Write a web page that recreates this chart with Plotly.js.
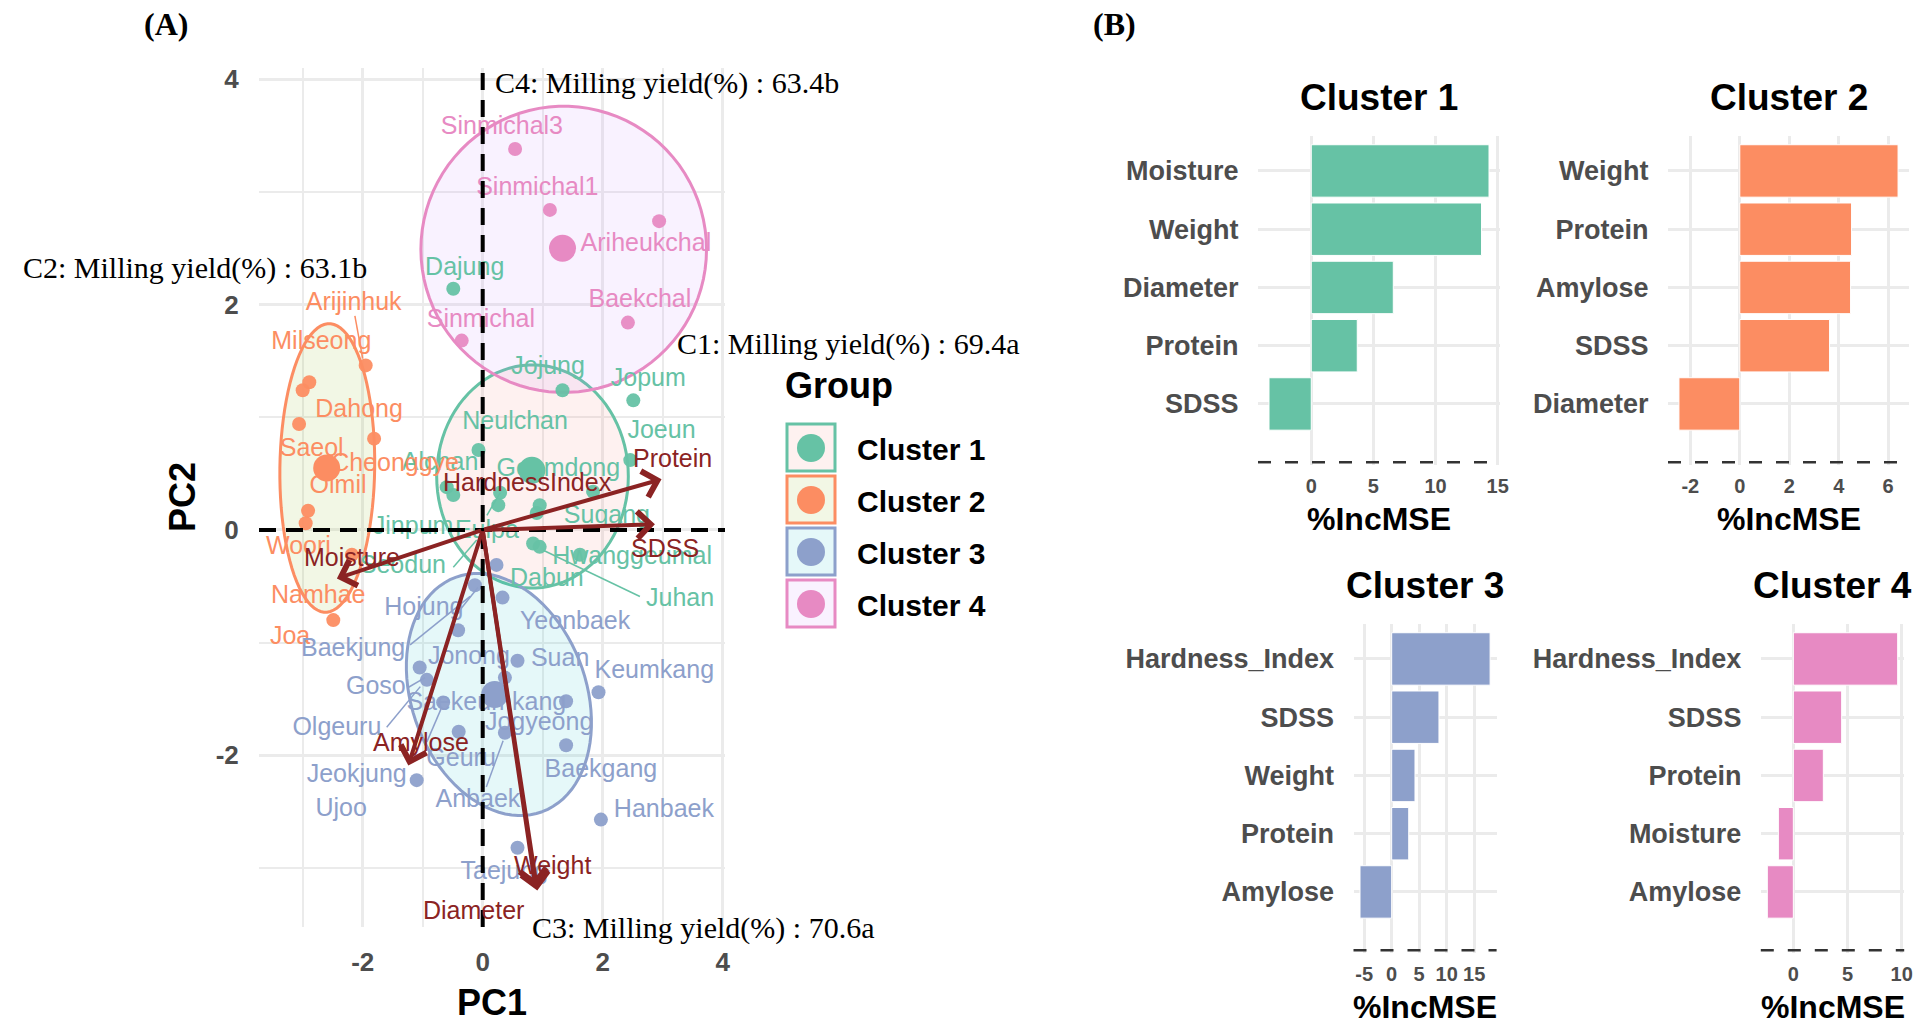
<!DOCTYPE html>
<html><head><meta charset="utf-8">
<script src="https://cdn.plot.ly/plotly-3.0.1.min.js"></script>
<style>html,body{margin:0;padding:0;background:#fff}#chart{width:1921px;height:1028px}</style>
</head><body><div id="chart"></div>
<script>
// ================= DATA =================
const groupNames = ['Cluster 1', 'Cluster 2', 'Cluster 3', 'Cluster 4'];

// PCA scores per cluster
const c1X = [-0.49, 1.33, 2.51, -0.07, 2.46, -0.60, -0.49, 0.29, 0.26, 0.95, 0.90, 0.84, 0.95, 1.62, 1.84];
const c1Y = [2.14, 1.24, 1.15, 0.71, 0.62, 0.38, 0.31, 0.33, 0.22, 0.22, 0.15, -0.12, -0.15, -0.22, 0.34];
const c2X = [-1.95, -2.89, -3.00, -3.06, -1.81, -2.91, -2.95, -2.18, -2.49];
const c2Y = [1.46, 1.31, 1.24, 0.94, 0.81, 0.17, 0.06, -0.22, -0.80];
const c3X = [0.23, -0.13, 0.33, -0.41, -1.05, -0.93, 0.58, 0.37, -0.66, 1.39, 1.93, -0.40, 0.37, 1.39, -1.10, 1.97, 0.58];
const c3Y = [-0.31, -0.49, -0.60, -0.89, -1.22, -1.33, -1.16, -1.31, -1.53, -1.52, -1.44, -1.79, -1.80, -1.91, -2.22, -2.57, -2.82];
const c4X = [0.54, 1.12, 2.94, 2.42, -0.35];
const c4Y = [3.38, 2.84, 2.74, 1.84, 1.68];

// variety labels (repelled label positions)
const c1Names = ['Dajung', 'Jojung', 'Jopum', 'Neulchan', 'Joeun', 'Alchan', 'Goamdong', 'Jinpum', 'Eulpa', 'Seodun', 'Dabun', 'Hwanggeumal', 'Juhan', 'Sugang'];
const c1LabX = [-0.30, 1.09, 2.76, 0.54, 2.98, -0.71, 1.26, -1.16, 0.07, -1.33, 1.07, 2.49, 3.29, 2.07];
const c1LabY = [2.32, 1.44, 1.33, 0.95, 0.87, 0.59, 0.53, 0.02, -0.02, -0.33, -0.44, -0.25, -0.62, 0.12];
const c2Names = ['Arijinhuk', 'Milseong', 'Dahong', 'Saeol', 'Cheonggye', 'Olmil', 'Woori', 'Namhae', 'Joa'];
const c2LabX = [-2.15, -2.69, -2.06, -2.85, -1.46, -2.41, -3.07, -2.74, -3.21];
const c2LabY = [2.01, 1.66, 1.06, 0.71, 0.58, 0.38, -0.16, -0.59, -0.96];
const c3Names = ['Hojung', 'Yeonbaek', 'Baekjung', 'Jonong', 'Suan', 'Keumkang', 'Goso', 'Saekeumkang', 'Jogyeong', 'Olgeuru', 'Geuru', 'Baekgang', 'Jeokjung', 'Hanbaek', 'Anbaek', 'Ujoo', 'Taejung'];
const c3LabX = [-0.98, 1.54, -2.16, -0.23, 1.29, 2.86, -1.78, 0.06, 0.94, -2.43, -0.36, 1.97, -2.10, 3.02, -0.08, -2.36, 0.36];
const c3LabY = [-0.70, -0.82, -1.06, -1.13, -1.15, -1.26, -1.40, -1.54, -1.72, -1.76, -2.04, -2.14, -2.18, -2.49, -2.40, -2.48, -3.04];
const c4Names = ['Sinmichal3', 'Sinmichal1', 'Ariheukchal', 'Baekchal', 'Sinmichal'];
const c4LabX = [0.32, 0.91, 2.72, 2.62, -0.03];
const c4LabY = [3.57, 3.03, 2.53, 2.03, 1.86];

// label leader segments
const segGroup = [1, 2, 2, 2, 2, 2, 2, 0, 0, 0];
const segX0 = [-2.13, -0.38, -1.21, -1.25, -1.60, -0.93, 0.06, 2.62, -0.49, 0.07];
const segY0 = [1.90, -0.71, -1.02, -1.40, -1.75, -1.88, -2.28, -0.59, -0.33, 0.13];
const segX1 = [-2.00, -0.08, -0.21, -0.96, -1.04, -0.68, 0.34, 1.01, -0.10, 0.29];
const segY1 = [1.52, -0.51, -0.59, -1.31, -1.39, -1.57, -1.87, -0.18, -0.09, 0.33];

// cluster centroids
const centX = [0.82, -2.60, 0.20, 1.33];
const centY = [0.53, 0.55, -1.46, 2.50];

// confidence ellipses: centre and two conjugate semi-axis vectors
const ellCX = [0.83, -2.59, 0.27, 1.35];
const ellCY = [0.475, 0.55, -1.46, 2.49];
const ellUX = [1.597, 0.79, 0.722, 2.38];
const ellUY = [0, 0, -1.04, 0];
const ellVX = [0, 0.03, -1.363, 0];
const ellVY = [0.99, 1.28, -0.269, 1.27];

// variable loadings (arrows)
const arrowNames = ['Protein', 'SDSS', 'Moisture', 'Amylose', 'Weight', 'Diameter'];
const arrowX = [2.98, 2.87, -2.43, -1.24, 0.91, 0.88];
const arrowY = [0.45, 0.05, -0.43, -2.09, -3.20, -3.17];
const loadNames = ['Protein', 'SDSS', 'HardnessIndex', 'Moisture', 'Amylose', 'Weight', 'Diameter'];
const loadLabX = [3.17, 3.04, 0.74, -2.18, -1.03, 1.17, -0.16];
const loadLabY = [0.64, -0.16, 0.43, -0.24, -1.88, -2.97, -3.37];

// milling yield notes
const millText = ['C1: Milling yield(%) : 69.4a', 'C2: Milling yield(%) : 63.1b', 'C3: Milling yield(%) : 70.6a', 'C4: Milling yield(%) : 63.4b'];

// variable importance (%IncMSE) per cluster
const imp1Vars = ['Moisture', 'Weight', 'Diameter', 'Protein', 'SDSS'];
const imp1Vals = [14.3, 13.7, 6.6, 3.7, -3.4];
const imp2Vars = ['Weight', 'Protein', 'Amylose', 'SDSS', 'Diameter'];
const imp2Vals = [6.4, 4.52, 4.48, 3.63, -2.46];
const imp3Vars = ['Hardness_Index', 'SDSS', 'Weight', 'Protein', 'Amylose'];
const imp3Vals = [17.9, 8.6, 4.24, 3.1, -5.76];
const imp4Vars = ['Hardness_Index', 'SDSS', 'Protein', 'Moisture', 'Amylose'];
const imp4Vals = [9.63, 4.46, 2.77, -1.38, -2.4];
const impTicks = [5, 2, 5, 5];
const pcaTicks = [-2, 0, 2, 4];

// ================= STYLE / LAYOUT =================
const W = 1921, H = 1028;
const fx = p => p / W;
const fy = p => 1 - p / H;
const SANS = 'Liberation Sans, Arial, sans-serif';
const SERIF = 'Liberation Serif, Times New Roman, serif';
const colors = ['#66C2A5', '#FC8D62', '#8DA0CB', '#E78AC3'];
const fills = ['rgba(248,118,109,0.10)', 'rgba(124,174,0,0.10)', 'rgba(0,191,196,0.10)', 'rgba(199,124,255,0.10)'];
const RED = '#8B2323';
const GRID = '#ebebeb';

const ptsX = [c1X, c2X, c3X, c4X], ptsY = [c1Y, c2Y, c3Y, c4Y];
const labN = [c1Names, c2Names, c3Names, c4Names];
const labX = [c1LabX, c2LabX, c3LabX, c4LabX], labY = [c1LabY, c2LabY, c3LabY, c4LabY];

const traces = [];
for (let g = 0; g < 4; g++) {
  const xs = [], ys = [];
  segGroup.forEach((sg, i) => {
    if (sg === g) { xs.push(segX0[i], segX1[i], null); ys.push(segY0[i], segY1[i], null); }
  });
  if (xs.length) traces.push({type: 'scatter', mode: 'lines', x: xs, y: ys, xaxis: 'x', yaxis: 'y',
    line: {color: colors[g], width: 1.5}, hoverinfo: 'skip', showlegend: false});
}
for (let g = 0; g < 4; g++) {
  traces.push({type: 'scatter', mode: 'markers', x: ptsX[g], y: ptsY[g], xaxis: 'x', yaxis: 'y', name: groupNames[g],
    marker: {size: 14, color: colors[g], opacity: 0.95}, showlegend: false});
}
traces.push({type: 'scatter', mode: 'markers', x: centX, y: centY, xaxis: 'x', yaxis: 'y',
  marker: {size: 27, color: colors}, showlegend: false, hoverinfo: 'skip'});
for (let g = 0; g < 4; g++) {
  traces.push({type: 'scatter', mode: 'text', x: labX[g], y: labY[g], text: labN[g], xaxis: 'x', yaxis: 'y',
    textposition: 'middle center', textfont: {family: SANS, size: 25, color: colors[g]},
    cliponaxis: false, showlegend: false, hoverinfo: 'text'});
}
const impVars = [imp1Vars, imp2Vars, imp3Vars, imp4Vars];
const impVals = [imp1Vals, imp2Vals, imp3Vals, imp4Vals];
const barPos = impVars.map(v => v.map((_, i) => v.length - i));
for (let g = 0; g < 4; g++) {
  traces.push({type: 'bar', orientation: 'h', x: impVals[g], y: barPos[g], width: 0.9,
    xaxis: 'x' + (g + 2), yaxis: 'y' + (g + 2),
    marker: {color: colors[g], line: {color: '#ffffff', width: 1}}, showlegend: false,
    text: impVars[g], hovertemplate: '%{text}: %{x}<extra></extra>', textposition: 'none'});
}

// ---- shapes ----
const shapes = [];
for (let g = 0; g < 4; g++) {
  let path = '';
  const n = 90;
  for (let k = 0; k <= n; k++) {
    const t = 2 * Math.PI * k / n;
    const x = ellCX[g] + ellUX[g] * Math.cos(t) + ellVX[g] * Math.sin(t);
    const y = ellCY[g] + ellUY[g] * Math.cos(t) + ellVY[g] * Math.sin(t);
    path += (k === 0 ? 'M' : 'L') + x.toFixed(4) + ',' + y.toFixed(4);
  }
  path += 'Z';
  shapes.push({type: 'path', path: path, xref: 'x', yref: 'y', layer: 'between',
    fillcolor: fills[g], line: {color: colors[g], width: 3}});
}
shapes.push({type: 'line', xref: 'x domain', yref: 'y', x0: 0, x1: 1, y0: 0, y1: 0, layer: 'above',
  line: {color: '#000', width: 4, dash: '17px,10px'}});
shapes.push({type: 'line', xref: 'x', yref: 'y domain', x0: 0, x1: 0, y0: 0, y1: 1, layer: 'above',
  line: {color: '#000', width: 4, dash: '17px,10px'}});
for (let g = 0; g < 4; g++) {
  shapes.push({type: 'line', xref: 'x' + (g + 2) + ' domain', yref: 'y' + (g + 2), x0: 0, x1: 1, y0: 0, y1: 0,
    layer: 'above', line: {color: '#333', width: 2.5, dash: '13px,14px'}});
}
const keyTop = [423, 475, 527, 579];
for (let g = 0; g < 4; g++) {
  shapes.push({type: 'rect', xref: 'paper', yref: 'paper', x0: fx(787), x1: fx(835), y0: fy(keyTop[g] + 48), y1: fy(keyTop[g] + 1),
    fillcolor: fills[g], line: {color: colors[g], width: 3}});
  const cy = keyTop[g] + 25;
  shapes.push({type: 'circle', xref: 'paper', yref: 'paper', x0: fx(797), x1: fx(825), y0: fy(cy + 14), y1: fy(cy - 14),
    fillcolor: colors[g], line: {width: 0}});
}

// ---- annotations ----
const ann = [];
function paperText(px, py, text, font, extra) {
  ann.push(Object.assign({xref: 'paper', yref: 'paper', x: fx(px), y: fy(py), xanchor: 'center', yanchor: 'middle',
    text: text, showarrow: false, font: font}, extra || {}));
}
arrowNames.forEach((nm, i) => {
  ann.push({xref: 'x', yref: 'y', axref: 'x', ayref: 'y', x: arrowX[i], y: arrowY[i], ax: 0, ay: 0,
    text: '', showarrow: true, arrowhead: 4, arrowsize: 1.3, arrowwidth: 4, arrowcolor: RED, standoff: 0, startstandoff: 0});
});
loadNames.forEach((nm, i) => {
  ann.push({xref: 'x', yref: 'y', x: loadLabX[i], y: loadLabY[i], xanchor: 'center', yanchor: 'middle', text: nm, showarrow: false,
    font: {family: SANS, size: 25, color: RED}});
});
const millPos = [[675, 344], [21, 268], [530, 928], [493, 83]];
millText.forEach((t, i) => {
  paperText(millPos[i][0], millPos[i][1], t, {family: SERIF, size: 30, color: '#000'}, {xanchor: 'left'});
});
paperText(166, 24, '(A)', {family: SERIF, size: 32, color: '#000', weight: 'bold'});
paperText(1114, 24, '(B)', {family: SERIF, size: 32, color: '#000', weight: 'bold'});
paperText(492, 1002, 'PC1', {family: SANS, size: 36, color: '#000', weight: 'bold'});
paperText(182, 497, 'PC2', {family: SANS, size: 36, color: '#000', weight: 'bold'}, {textangle: -90});
paperText(783, 385, 'Group', {family: SANS, size: 36, color: '#000', weight: 'bold'}, {xanchor: 'left'});
groupNames.forEach((nm, g) => {
  paperText(855, keyTop[g] + 26, nm, {family: SANS, size: 30, color: '#000', weight: 'bold'}, {xanchor: 'left'});
});
const panL = [1258, 1668, 1353.5, 1760.8];
const panR = [1500, 1909, 1496.6, 1904.2];
const panTop = [136, 136, 624, 624];
const unitPx = 58.25;
for (let g = 0; g < 4; g++) {
  const cxp = (panL[g] + panR[g]) / 2;
  paperText(cxp, panTop[g] - 39, groupNames[g], {family: SANS, size: 37, color: '#000', weight: 'bold'});
  paperText(cxp, panTop[g] + 383, '%IncMSE', {family: SANS, size: 32, color: '#000', weight: 'bold'});
}

function tickList(lo, hi, step) {
  const out = [];
  for (let v = Math.ceil(lo / step) * step; v <= hi + 1e-9; v += step) out.push(Math.round(v * 1000) / 1000);
  return out;
}

const pcaTickFont = {family: SANS, size: 26, color: '#4d4d4d', weight: 'bold'};
const layout = {
  width: W, height: H, margin: {l: 0, r: 0, t: 0, b: 0},
  paper_bgcolor: '#fff', plot_bgcolor: '#fff', showlegend: false,
  font: {family: SANS, color: '#000'},
  xaxis: {domain: [fx(259), fx(725)], range: [-3.728, 4.038], anchor: 'y',
    tickmode: 'array', tickvals: pcaTicks, ticktext: pcaTicks.map(String),
    showgrid: true, gridcolor: GRID, gridwidth: 2.5, zeroline: false, showline: false,
    minor: {dtick: 1, tick0: 0, showgrid: true, gridcolor: GRID, gridwidth: 2},
    ticks: 'outside', ticklen: 12, tickcolor: 'rgba(0,0,0,0)', tickfont: pcaTickFont},
  yaxis: {domain: [fy(927), fy(68)], range: [-3.523, 4.099], anchor: 'x',
    tickmode: 'array', tickvals: pcaTicks, ticktext: pcaTicks.map(String),
    showgrid: true, gridcolor: GRID, gridwidth: 2.5, zeroline: false, showline: false,
    minor: {dtick: 1, tick0: 0, showgrid: true, gridcolor: GRID, gridwidth: 2},
    ticks: 'outside', ticklen: 14, tickcolor: 'rgba(0,0,0,0)', tickfont: pcaTickFont},
  shapes: shapes, annotations: ann
};
for (let g = 0; g < 4; g++) {
  const vals = impVals[g];
  const mn = Math.min(0, ...vals), mx = Math.max(0, ...vals), pad = (mx - mn) * 0.05;
  const lo = mn - pad, hi = mx + pad;
  const tv = tickList(lo, hi, impTicks[g]);
  const yBottom = panTop[g] + 5.65 * unitPx;
  layout['xaxis' + (g + 2)] = {domain: [fx(panL[g]), fx(panR[g])], range: [lo, hi], anchor: 'y' + (g + 2),
    tickmode: 'array', tickvals: tv, ticktext: tv.map(String),
    showgrid: true, gridcolor: GRID, gridwidth: 2.5, zeroline: false, showline: false,
    ticks: 'outside', ticklen: 3, tickcolor: 'rgba(0,0,0,0)',
    tickfont: {family: SANS, size: 20, color: '#4d4d4d', weight: 'bold'}};
  layout['yaxis' + (g + 2)] = {domain: [fy(yBottom), fy(panTop[g])], range: [-0.05, 5.6], anchor: 'x' + (g + 2),
    tickmode: 'array', tickvals: barPos[g], ticktext: impVars[g], showgrid: true, gridcolor: GRID, gridwidth: 2.5,
    zeroline: false, showline: false,
    ticks: 'outside', ticklen: 13, tickcolor: 'rgba(0,0,0,0)',
    tickfont: {family: SANS, size: 27, color: '#4d4d4d', weight: 'bold'}};
}

Plotly.newPlot('chart', traces, layout, {displayModeBar: false});
</script>
</body></html>
